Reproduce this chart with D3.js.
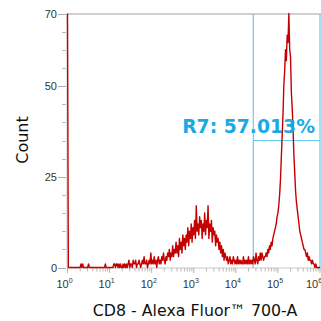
<!DOCTYPE html>
<html><head><meta charset="utf-8">
<script src="https://cdn.jsdelivr.net/npm/d3@7"></script>
<style>html,body{margin:0;padding:0;background:#fff;}svg{display:block;}</style>
</head><body>
<svg id="c" width="321" height="321"></svg>
<script>
// Histogram bins: log10 start and step of the bins (decades)
const binLog10Start = 0;
const binLog10Step = 0.02;
// Counts per bin (first bin is off-scale, clipped at 70)
const counts = [
 95,0,0,0,0,0,0,0,0,0,
 0,0,0,0,0,0,1,0,1,0,
 0,0,0,0,0,1,0,0,0,0,
 0,0,0,0,0,0,0,0,0,0,
 0,0,0,0,0,1,0,0,0,0,
 0,0,0,0,0,1,1,0,1,1,
 0,1,0,1,0,0,1,0,1,0,
 1,0,1,2,0,1,1,0,2,1,
 1,2,0,1,1,2,1,0,1,2,
 1,3,1,1,2,0,1,2,1,4,
 1,2,1,3,1,2,0,2,3,1,
 2,1,3,2,4,2,1,3,2,4,
 3,5,2,4,3,6,3,5,4,7,
 4,6,3,8,5,7,4,9,6,8,
 5,9,7,11,6,10,8,12,7,11,
 9,13,8,17,10,12,9,14,11,13,
 8,12,10,15,9,13,11,17,8,12,
 10,13,7,11,9,10,6,9,7,8,
 5,7,4,6,3,5,2,4,3,2,
 3,1,2,3,1,2,1,3,2,1,
 2,1,3,1,2,1,2,1,1,3,
 1,2,1,2,1,3,1,2,1,2,
 1,3,2,1,4,2,1,3,2,4,
 2,4,3,2,3,3,4,3,5,4,
 6,5,7,6,8,9,10,11,12,14,
 15,17,20,24,30,36,42,50,54,60,
 57,64,62,70,60,58,48,44,38,31,
 26,21,18,16,14,12,10,9,8,7,
 6,5,5,4,3,4,2,3,2,2,
 1,2,1,1,0,1,0,0,0,0,
 0
];
const yTicks = [0, 25, 50, 70];
const yMinorTicks = [5,10,15,20,30,35,40,45,55,60,65];
const xTickExps = [0, 1, 2, 3, 4, 5, 6];
const xTitle = "CD8 - Alexa Fluor\u2122 700-A";
const yTitle = "Count";
const gateName = "R7";
const gatePct = "57.013%";
const gateLow = 26000, gateHigh = 1e6, gateLevel = 35;

const svg = d3.select("#c");
const x = d3.scaleLog().domain([1, 1e6]).range([67.5, 320]);
const y = d3.scaleLinear().domain([0, 70]).range([267.5, 13.5]);

// frame lines
svg.append("line").attr("x1",67).attr("x2",321).attr("y1",14).attr("y2",14)
  .attr("stroke","#d0d0d0").attr("stroke-width",2);
svg.append("line").attr("x1",67).attr("x2",321).attr("y1",268).attr("y2",268)
  .attr("stroke","#c8c8c8").attr("stroke-width",1);
svg.append("line").attr("x1",67).attr("x2",67).attr("y1",14).attr("y2",268)
  .attr("stroke","#c8c8c8").attr("stroke-width",1);

// y ticks
const yAxis = svg.append("g");
yAxis.selectAll("line.maj").data(yTicks).join("line").attr("class","maj")
  .attr("x1",58).attr("x2",66).attr("y1",d=>Math.round(y(d))+0.5).attr("y2",d=>Math.round(y(d))+0.5)
  .attr("stroke","#b0b0b0");
yAxis.selectAll("line.min").data(yMinorTicks).join("line").attr("class","min")
  .attr("x1",62).attr("x2",66).attr("y1",d=>Math.round(y(d))+0.5).attr("y2",d=>Math.round(y(d))+0.5)
  .attr("stroke","#b8b8b8");
yAxis.selectAll("text").data(yTicks).join("text")
  .attr("x",57).attr("y",d=>y(d)+4).attr("text-anchor","end")
  .attr("font-family","Liberation Sans, Arial, sans-serif").attr("font-size",11).attr("fill","#333")
  .text(d=>d);

// x ticks
const minor = [];
for (let e = 0; e < 6; e++) for (let k = 2; k <= 9; k++) minor.push(k * Math.pow(10, e));
svg.append("g").selectAll("line").data(minor).join("line")
  .attr("x1",d=>x(d)).attr("x2",d=>x(d)).attr("y1",268).attr("y2",271.5)
  .attr("stroke","#a8a8a8").attr("stroke-width",0.8);
svg.append("g").selectAll("line").data(xTickExps).join("line")
  .attr("x1",d=>x(Math.pow(10,d))).attr("x2",d=>x(Math.pow(10,d))).attr("y1",268).attr("y2",273)
  .attr("stroke","#a0a0a0").attr("stroke-width",0.8);
const xl = svg.append("g").selectAll("text").data(xTickExps).join("text")
  .attr("y",288)
  .attr("font-family","Liberation Sans, Arial, sans-serif").attr("font-size",11).attr("fill","#333");
xl.append("tspan").text("10");
xl.append("tspan").attr("dy",-5).attr("font-size",7).text(d=>d);
xl.attr("text-anchor","start").attr("x",d=>Math.min(x(Math.pow(10,d))-11, 306));

// gate
const gc = "#66ccf2";
svg.append("line").attr("x1",x(gateLow)).attr("x2",x(gateLow)).attr("y1",14).attr("y2",268).attr("stroke",gc).attr("stroke-width",1.2);
svg.append("line").attr("x1",x(gateHigh)).attr("x2",x(gateHigh)).attr("y1",14).attr("y2",268).attr("stroke",gc).attr("stroke-width",1.2);
svg.append("line").attr("x1",x(gateLow)).attr("x2",x(gateHigh)).attr("y1",y(gateLevel)).attr("y2",y(gateLevel)).attr("stroke",gc).attr("stroke-width",1.2);

// histogram line
const pts = counts.map((c,i)=>[Math.pow(10, binLog10Start + i*binLog10Step), Math.min(c,70)]);
svg.append("path").datum(pts)
  .attr("d", d3.line().x(d=>x(d[0])).y(d=>y(d[1])))
  .attr("fill","none").attr("stroke","#c40000").attr("stroke-width",1.4).attr("stroke-linejoin","round");

// gate label
svg.append("text").attr("x",315).attr("y",133).attr("text-anchor","end")
  .attr("font-family","DejaVu Sans, Verdana, sans-serif").attr("font-weight","bold")
  .attr("font-size",18.8).attr("fill","#1aaae3").text(gateName + ": " + gatePct);

// titles
svg.append("text").attr("x",195).attr("y",316).attr("text-anchor","middle")
  .attr("font-family","DejaVu Sans, Verdana, sans-serif").attr("font-size",15.8).attr("fill","#111")
  .text(xTitle);
svg.append("text").attr("transform","translate(28,140) rotate(-90)").attr("text-anchor","middle")
  .attr("font-family","DejaVu Sans, Verdana, sans-serif").attr("font-size",16).attr("fill","#111")
  .text(yTitle);
</script>
</body></html>
